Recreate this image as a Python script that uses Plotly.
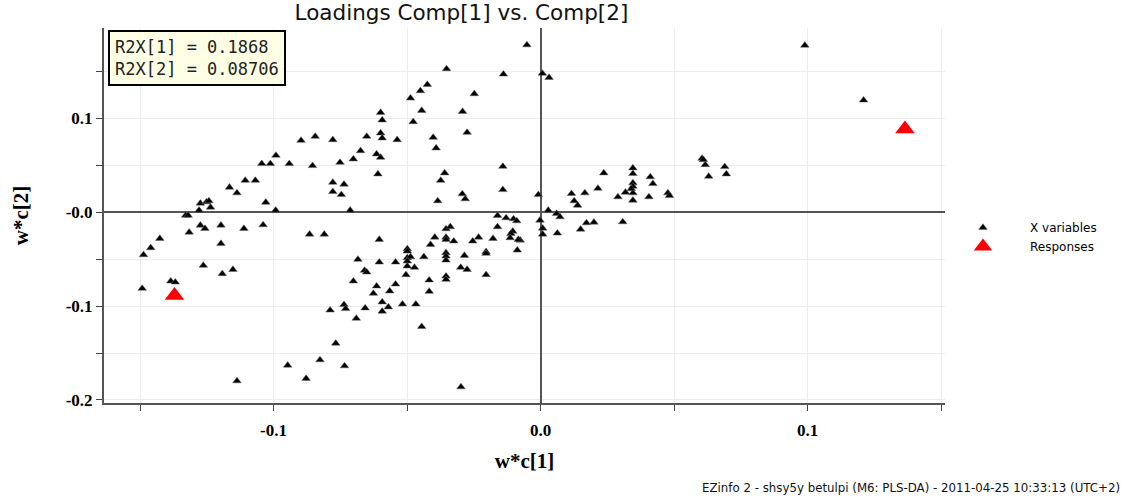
import plotly.graph_objects as go

# X variables loadings: w*c[1], w*c[2]
xvar_c1 = [
    -0.0051, 0.0007, 0.0032, 0.0990, 0.1210,
    0.0605, 0.0610, 0.0617, 0.0630, 0.0690, 0.0696,
    0.0237, 0.0346, 0.0346, 0.0346, 0.0346, 0.0346, 0.0346, 0.0340,
    0.0411, 0.0421, 0.0406, 0.0477, 0.0483, 0.0215, 0.0166, 0.0116,
    0.0126, 0.0139, 0.0290, 0.0318, -0.0008, 0.0029, 0.0060, 0.0073,
    -0.0002, 0.0008, 0.0008, 0.0063, 0.0150, 0.0172, 0.0200, 0.0308,
    -0.0076, -0.0141, -0.0141, -0.0161, -0.0129, -0.0101, -0.0089, -0.0161,
    -0.0104, -0.0111, -0.0114, -0.0083, -0.0178, -0.0087,
    -0.0352, -0.0139, -0.0424, -0.0450, -0.0487, -0.0248, -0.0599, -0.0445,
    -0.0292, -0.0593, -0.0477, -0.0275, -0.0599, -0.0593, -0.0651, -0.0537,
    -0.0402, -0.0844, -0.0778, -0.0897, -0.0391, -0.0674, -0.0614, -0.0599,
    -0.0701, -0.0751, -0.0854, -0.0609, -0.0359, -0.0374, -0.0778, -0.0736,
    -0.0778, -0.0746, -0.0293, -0.0282, -0.0385, -0.0713, -0.0865, -0.0810,
    -0.0604, -0.0354, -0.0338, -0.0396, -0.0354, -0.0354, -0.0325, -0.0254,
    -0.0232, -0.0412, -0.0499, -0.0204, -0.0204, -0.0499, -0.0499, -0.0487,
    -0.0499, -0.0499, -0.0472, -0.0504, -0.0437, -0.0684, -0.0604, -0.0543,
    -0.0659, -0.0651, -0.0701, -0.0614, -0.0626, -0.0565, -0.0543, -0.0417,
    -0.0417, -0.0593, -0.0570, -0.0593, -0.0517, -0.0467, -0.0657, -0.0736,
    -0.0730, -0.0788, -0.0690, -0.0445, -0.0767, -0.0826, -0.0734, -0.0878,
    -0.0298, -0.0354, -0.0354, -0.0354, -0.0354, -0.0354, -0.0285, -0.0299,
    -0.0275, -0.0204, -0.0947, -0.1137,
    -0.1106, -0.1068, -0.1165, -0.1137, -0.1274, -0.1251, -0.1242, -0.1236,
    -0.1279, -0.1029, -0.0992, -0.1329, -0.1320, -0.1274, -0.1257, -0.1197,
    -0.1111, -0.1039, -0.1316, -0.1426, -0.1460, -0.1487, -0.1197, -0.1263,
    -0.1192, -0.1152, -0.1385, -0.1368, -0.1492, -0.0991, -0.1044, -0.1012,
    -0.0941,
]
xvar_c2 = [
    0.1784, 0.1480, 0.1436, 0.1780, 0.1196,
    0.0574, 0.0560, 0.0507, 0.0383, 0.0486, 0.0408,
    0.0419, 0.0472, 0.0412, 0.0313, 0.0277, 0.0206, 0.0128, 0.0250,
    0.0377, 0.0305, 0.0164, 0.0206, 0.0178, 0.0255, 0.0206, 0.0199,
    0.0121, 0.0074, 0.0164, 0.0213, 0.0188, 0.0021, -0.0014, -0.0049,
    -0.0085, -0.0170, -0.0234, -0.0223, -0.0181, -0.0113, -0.0106, -0.0102,
    -0.0298, 0.0489, 0.0241, -0.0035, -0.0060, -0.0070, -0.0092, -0.0155,
    -0.0202, -0.0227, -0.0272, -0.0290, -0.0280, -0.0404,
    0.1529, 0.1472, 0.1362, 0.1295, 0.1217, 0.1263, 0.1064, 0.1085,
    0.1074, 0.0983, 0.0965, 0.0851, 0.0845, 0.0791, 0.0809, 0.0773,
    0.0798, 0.0809, 0.0773, 0.0766, 0.0685, 0.0656, 0.0621, 0.0585,
    0.0568, 0.0532, 0.0497, 0.0408, 0.0419, 0.0340, 0.0319, 0.0298,
    0.0220, 0.0188, 0.0196, 0.0143, 0.0121, 0.0021, -0.0234, -0.0234,
    -0.0290, -0.0177, -0.0155, -0.0266, -0.0266, -0.0290, -0.0308, -0.0308,
    -0.0266, -0.0344, -0.0390, -0.0421, -0.0439, -0.0415, -0.0485, -0.0474,
    -0.0521, -0.0574, -0.0588, -0.0666, -0.0474, -0.0503, -0.0532, -0.0532,
    -0.0620, -0.0638, -0.0734, -0.0787, -0.0865, -0.0840, -0.0766, -0.0723,
    -0.0844, -0.0957, -0.1010, -0.1056, -0.0979, -0.0979, -0.1021, -0.0985,
    -0.1028, -0.1043, -0.1131, -0.1219, -0.1397, -0.1574, -0.1638, -0.1772,
    -0.1862, -0.0432, -0.0468, -0.0511, -0.0681, -0.0716, -0.0461, -0.0588,
    -0.0610, -0.0666, -0.1631, -0.1798,
    0.0340, 0.0340, 0.0266, 0.0206, 0.0096, 0.0110, 0.0121, 0.0053,
    0.0021, 0.0106, 0.0021, -0.0032, -0.0032, -0.0138, -0.0173, -0.0138,
    -0.0173, -0.0134, -0.0213, -0.0280, -0.0379, -0.0453, -0.0333, -0.0567,
    -0.0655, -0.0610, -0.0734, -0.0745, -0.0812, 0.0606, 0.0518, 0.0518,
    0.0518,
]

# Responses
resp_c1 = [-0.1371, 0.1365]
resp_c2 = [-0.0886, 0.0887]

x_tickvals = [-0.1, 0.0, 0.1]
x_ticktext = ["-0.1", "0.0", "0.1"]
y_tickvals = [0.1, 0.0, -0.1, -0.2]
y_ticktext = ["0.1", "-0.0", "-0.1", "-0.2"]

title_text = "Loadings Comp[1] vs. Comp[2]"
r2x_text = "R2X[1] = 0.1868<br>R2X[2] = 0.08706"
footer_text = "EZinfo 2 - shsy5y betulpi (M6: PLS-DA) - 2011-04-25 10:33:13 (UTC+2)"

fig = go.Figure()
fig.add_trace(go.Scatter(
    x=xvar_c1, y=xvar_c2, mode="markers", name="X variables",
    marker=dict(symbol="triangle-up", size=7.5, color="black",
                line=dict(width=0.5, color="#666")),
))
fig.add_trace(go.Scatter(
    x=resp_c1, y=resp_c2, mode="markers", name="Responses",
    marker=dict(symbol="triangle-up", size=17, color="red",
                line=dict(width=0)),
))

tick_font = dict(family="Liberation Serif", size=17, color="black", weight="bold")
axis_title_font = dict(family="Liberation Serif", size=21, color="black", weight="bold")

fig.update_layout(
    width=1131, height=499,
    margin=dict(l=104, r=186, t=28, b=96),
    paper_bgcolor="white", plot_bgcolor="white",
    showlegend=True,
    legend=dict(x=(936 - 104) / 841, y=(403 - 237) / 375, xanchor="left",
                yanchor="middle",
                font=dict(family="DejaVu Sans", size=12, color="black"),
                itemwidth=84, tracegroupgap=0, bgcolor="rgba(0,0,0,0)"),
    title=dict(text=title_text, x=0.408, xanchor="center", xref="container",
               y=0.975, yanchor="middle", yref="container",
               font=dict(family="DejaVu Sans", size=21.5, color="#111")),
    font=dict(family="DejaVu Sans"),
)

fig.update_xaxes(
    range=[-0.1635, 0.1515],
    tickvals=x_tickvals, ticktext=x_ticktext, tickfont=tick_font,
    ticks="outside", ticklen=6, tickcolor="#444", tickwidth=1,
    ticklabelstandoff=5,
    showgrid=True, gridcolor="#ececec", gridwidth=1,
    minor=dict(dtick=0.05, tick0=0, ticks="outside", ticklen=6,
               tickcolor="#444", showgrid=True, gridcolor="#ececec"),
    zeroline=True, zerolinecolor="#555", zerolinewidth=1.5,
    showline=True, linecolor="#555", linewidth=2,
    title=dict(text="w*c[1]", font=axis_title_font, standoff=14),
)
fig.update_yaxes(
    range=[-0.2033, 0.1965],
    tickvals=y_tickvals, ticktext=y_ticktext, tickfont=tick_font,
    ticks="outside", ticklen=6, tickcolor="#444", tickwidth=1,
    ticklabelstandoff=0,
    showgrid=True, gridcolor="#ececec", gridwidth=1,
    minor=dict(dtick=0.05, tick0=0, ticks="outside", ticklen=6,
               tickcolor="#444", showgrid=True, gridcolor="#ececec"),
    zeroline=True, zerolinecolor="#555", zerolinewidth=1.5,
    showline=True, linecolor="#555", linewidth=2,
    title=dict(text="w*c[2]", font=axis_title_font, standoff=31),
)

fig.add_annotation(
    text=r2x_text, xref="paper", yref="paper", x=0.005, y=0.995,
    xanchor="left", yanchor="top", align="left", showarrow=False,
    font=dict(family="DejaVu Sans Mono", size=17, color="#222"),
    bgcolor="#ffffe6", bordercolor="black", borderwidth=2, borderpad=5,
)
fig.add_annotation(
    text=footer_text, xref="paper", yref="paper", x=(700 - 104) / 841,
    y=-(488 - 403) / 375, xanchor="left", yanchor="middle", showarrow=False,
    font=dict(family="DejaVu Sans", size=11.8, color="#111"),
)

fig.write_html("out.html")
